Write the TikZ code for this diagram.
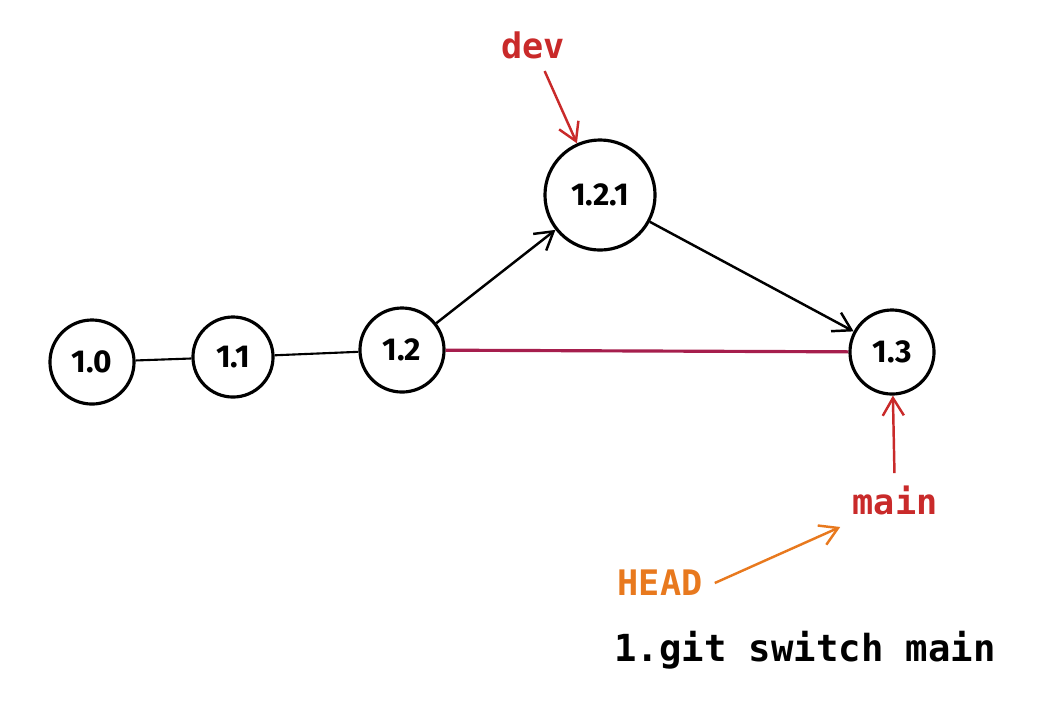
\documentclass[tikz,border=0pt]{standalone}
\usepackage{fontspec}
\setmainfont{DejaVu Sans Mono}
\newfontfamily\hand{Fira Sans}
\usetikzlibrary{arrows.meta}
\definecolor{rd}{RGB}{201,42,42}
\definecolor{og}{RGB}{232,121,30}
\definecolor{cr}{RGB}{166,30,77}
\begin{document}
\begin{tikzpicture}[x=0.01cm,y=-0.01cm,
  c/.style={circle,draw,line width=0.9pt,inner sep=0pt,font=\hand\bfseries\fontsize{9}{9}\selectfont},
  lab/.style={font=\bfseries\fontsize{10}{10}\selectfont},
  arr/.style={-{Straight Barb[length=5pt,width=6pt]},line width=0.7pt}]
\useasboundingbox (0,0) rectangle (1064,702);
\node[c,minimum size=0.84cm] (n0) at (92,362) {1.0};
\node[c,minimum size=0.8cm] (n1) at (233,357) {1.1};
\node[c,minimum size=0.84cm] (n2) at (402,350) {1.2};
\node[c,minimum size=1.1cm] (n21) at (600,195) {1.2.1};
\node[c,minimum size=0.84cm] (n3) at (892,352) {1.3};
\node[lab,text=rd] (dev) at (533,45) {dev};
\node[lab,text=rd] (main) at (895,500) {main};
\node[lab,text=og] (head) at (660,583) {HEAD};
\node[lab,font=\bfseries\fontsize{10.6}{10.6}\selectfont] (cmd) at (805,650) {1.git switch main};
\draw[line width=0.6pt] (n0) -- (n1);
\draw[line width=0.6pt] (n1) -- (n2);
\draw[cr,line width=0.9pt] (n2) -- (n3);
\draw[arr] (n2) -- (n21);
\draw[arr] (n21) -- (n3);
\draw[arr,rd] (dev) -- (n21);
\draw[arr,rd] (main) -- (n3);
\draw[arr,og] (head.east) -- (main.south west);
\end{tikzpicture}
\end{document}
